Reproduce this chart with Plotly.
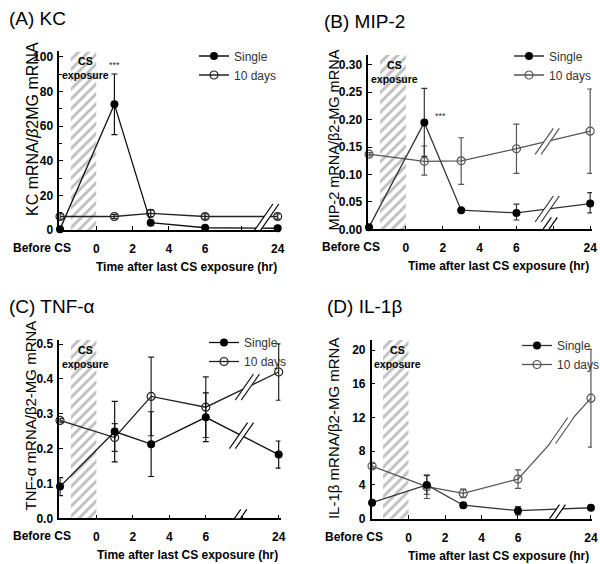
import plotly.graph_objects as go

# ---------------- data ----------------
TIME_LABELS = ["Before CS", "1", "3", "6", "24"]
X_POS = [-2, 1, 3, 6, 10]          # plotting position of each time point (24 h drawn after a break)
TICK_VALS = [-2, 0, 2, 4, 6, 8, 10]
TICK_TEXT = ["", "0", "2", "4", "6", "", "24"]
BEFORE_LABEL = "Before CS"
BEFORE_LABEL_X = -3.0
EXPOSURE = [-1.4, 0]               # hatched "CS exposure" window

KC_SINGLE = [0.5, 72.5, 4.2, 1.3, 1.0]
KC_SINGLE_ERR = [0.5, 17.5, 1.0, 0.5, 0.5]
KC_TEN = [7.8, 7.8, 9.6, 7.8, 7.8]
KC_TEN_ERR = [1.5, 1.2, 2.0, 1.5, 1.5]

MIP_SINGLE = [0.004, 0.195, 0.035, 0.030, 0.047]
MIP_SINGLE_ERR_UP = [0.002, 0.062, 0.003, 0.016, 0.020]
MIP_SINGLE_ERR_DN = [0.002, 0.062, 0.003, 0.013, 0.017]
MIP_TEN = [0.137, 0.124, 0.125, 0.147, 0.179]
MIP_TEN_ERR_UP = [0.003, 0.028, 0.042, 0.045, 0.077]
MIP_TEN_ERR_DN = [0.003, 0.025, 0.043, 0.045, 0.077]

TNF_SINGLE = [0.091, 0.249, 0.213, 0.290, 0.183]
TNF_SINGLE_ERR = [0.026, 0.087, 0.093, 0.070, 0.039]
TNF_TEN = [0.281, 0.232, 0.350, 0.319, 0.420]
TNF_TEN_ERR = [0.005, 0.040, 0.113, 0.087, 0.081]

IL_SINGLE = [1.9, 4.0, 1.6, 0.95, 1.3]
IL_SINGLE_ERR = [0.3, 1.1, 0.3, 0.5, 0.3]
IL_TEN = [6.25, 3.8, 3.0, 4.7, 14.3]
IL_TEN_ERR = [0.3, 1.4, 0.5, 1.1, 5.8]

PANELS = [
    dict(title="(A) KC", ytitle="KC mRNA/<i>β</i>2MG mRNA", ytsize=16, ytoff=27, ytshift=12,
         toff=52, legx=194, legy=41.5,
         s=KC_SINGLE, s_up=KC_SINGLE_ERR, s_dn=KC_SINGLE_ERR,
         t=KC_TEN, t_up=KC_TEN_ERR, t_dn=KC_TEN_ERR,
         yrange=[0, 103], dtick=20, minor=10, xrange=[-2.04, 10.13],
         xdom=[0.0988, 0.4667], ydom=[0.5922, 0.9087],
         scol="#111111", tcol="#222222", star=(1.03, 95),
         breaks=dict(axis=(8.9, -8, 26))),
    dict(title="(B) MIP-2", ytitle="MIP-2 mRNA/β2-MG mRNA", ytsize=14.5, ytoff=34, ytshift=2,
         toff=46, legx=509, legy=41.5,
         s=MIP_SINGLE, s_up=MIP_SINGLE_ERR_UP, s_dn=MIP_SINGLE_ERR_DN,
         t=MIP_TEN, t_up=MIP_TEN_ERR_UP, t_dn=MIP_TEN_ERR_DN,
         yrange=[0, 0.318], dtick=0.05, minor=None, xrange=[-2.04, 10.1],
         xdom=[0.6138, 0.9867], ydom=[0.5934, 0.9025],
         scol="#333333", tcol="#555555", star=(1.86, 0.207),
         breaks=dict(axis=(7.6, -17, 12), single=7.67, ten=7.67)),
    dict(title="(C) TNF-α", ytitle="TNF-α mRNA/β2-MG mRNA", ytsize=15, ytoff=29, ytshift=14,
         toff=52, legx=204, legy=328,
         s=TNF_SINGLE, s_up=TNF_SINGLE_ERR, s_dn=TNF_SINGLE_ERR,
         t=TNF_TEN, t_up=TNF_TEN_ERR, t_dn=TNF_TEN_ERR,
         yrange=[0, 0.512], dtick=0.1, minor=None, xrange=[-2.04, 10.1],
         xdom=[0.0988, 0.4675], ydom=[0.081, 0.3972],
         scol="#111111", tcol="#222222", star=None,
         breaks=dict(axis=(7.74, -9, 9), single=7.96, ten=8.28)),
    dict(title="(D) IL-1β", ytitle="IL-1β mRNA/β2-MG mRNA", ytsize=15, ytoff=38, ytshift=1,
         toff=47, legx=517, legy=331,
         s=IL_SINGLE, s_up=IL_SINGLE_ERR, s_dn=IL_SINGLE_ERR,
         t=IL_TEN, t_up=IL_TEN_ERR, t_dn=IL_TEN_ERR,
         yrange=[0, 21.2], dtick=4, minor=None, xrange=[-2.02, 10.06],
         xdom=[0.6195, 0.9867], ydom=[0.0803, 0.3972],
         scol="#333333", tcol="#555555", star=None,
         breaks=dict(axis=(7.9, -12, 14), ten=8.4)),
]

FONT = "Arial, Liberation Sans, sans-serif"
fig = go.Figure()
annotations = []
shapes = []
W, H = 600, 564

for i, p in enumerate(PANELS):
    n = "" if i == 0 else str(i + 1)
    xa, ya = "x" + n, "y" + n
    leg = "legend" + n
    top = p["yrange"][1]

    # hatched exposure window
    fig.add_trace(go.Scatter(
        x=[EXPOSURE[0], EXPOSURE[1], EXPOSURE[1], EXPOSURE[0], EXPOSURE[0]],
        y=[0, 0, top, top, 0], xaxis=xa, yaxis=ya, mode="lines",
        line=dict(width=0), fill="toself", fillcolor="white",
        fillpattern=dict(shape="/", fgcolor="#808080", bgcolor="white", size=7, solidity=0.42),
        hoverinfo="skip", showlegend=False))

    fig.add_trace(go.Scatter(
        x=X_POS, y=p["t"], xaxis=xa, yaxis=ya, name="10 days", legend=leg,
        mode="lines+markers", line=dict(color=p["tcol"], width=1.3),
        marker=dict(symbol="circle-open", size=8, color=p["tcol"], line=dict(width=1.2)),
        error_y=dict(type="data", symmetric=False, array=p["t_up"], arrayminus=p["t_dn"],
                     color=p["tcol"], thickness=1.2, width=3),
        cliponaxis=False))
    fig.add_trace(go.Scatter(
        x=X_POS, y=p["s"], xaxis=xa, yaxis=ya, name="Single", legend=leg,
        mode="lines+markers", line=dict(color=p["scol"], width=1.3),
        marker=dict(symbol="circle", size=8, color="black"),
        error_y=dict(type="data", symmetric=False, array=p["s_up"], arrayminus=p["s_dn"],
                     color=p["scol"], thickness=1.2, width=3),
        cliponaxis=False))

    axis_common = dict(showgrid=False, zeroline=False, showline=True, linecolor="black",
                       linewidth=1.5, ticks="inside", ticklen=4, tickcolor="black",
                       automargin=False,
                       tickfont=dict(family=FONT, size=12, color="black", weight="bold"))
    fig.update_layout(**{
        "xaxis" + n: dict(domain=p["xdom"], range=p["xrange"], anchor=ya, tickangle=0,
                          tickvals=TICK_VALS, ticktext=TICK_TEXT, ticklabelstandoff=7,
                          **axis_common),
        "yaxis" + n: dict(domain=p["ydom"], range=p["yrange"], anchor=xa, dtick=p["dtick"],
                          tick0=0, ticklabelstandoff=2,
                          tickformat=".2f" if p["dtick"] == 0.05 else (".1f" if p["dtick"] == 0.1 else "d"),
                          **axis_common),
        leg: dict(x=p["legx"] / W, y=1 - p["legy"] / H, xanchor="left", yanchor="top",
                  bgcolor="rgba(0,0,0,0)", font=dict(family=FONT, size=12, color="#333"),
                  traceorder="reversed", itemwidth=30, tracegroupgap=0),
    })
    if p["minor"]:
        fig.update_layout(**{"yaxis" + n: dict(minor=dict(dtick=p["minor"], ticks="inside",
                                                          ticklen=3, tickcolor="black"))})

    x0p, x1p = p["xdom"][0] * W, p["xdom"][1] * W
    y_top_px = (1 - p["ydom"][1]) * H
    y_bot_px = (1 - p["ydom"][0]) * H
    px_per_unit = (x1p - x0p) / (p["xrange"][1] - p["xrange"][0])

    # panel title
    annotations.append(dict(text=p["title"], xref="paper", yref="paper",
                            x=(x0p - p["toff"]) / W, y=1 - (y_top_px - 33) / H,
                            xanchor="left", yanchor="middle", showarrow=False,
                            font=dict(family=FONT, size=19, color="black")))
    # y title
    annotations.append(dict(text=p["ytitle"], xref="paper", yref="paper",
                            x=(x0p - p["ytoff"]) / W,
                            y=1 - ((y_top_px + y_bot_px) / 2 - p["ytshift"]) / H,
                            xanchor="center", yanchor="middle", textangle=-90, showarrow=False,
                            font=dict(family=FONT, size=p["ytsize"], color="black")))
    # x title
    annotations.append(dict(text="Time after last CS exposure (hr)", xref="paper", yref="paper",
                            x=(x1p - 1) / W, y=1 - (y_bot_px + 37) / H,
                            xanchor="right", yanchor="middle", showarrow=False,
                            font=dict(family=FONT, size=12, color="black", weight="bold")))
    # "Before CS" category label (sits left of its tick)
    annotations.append(dict(text=BEFORE_LABEL, xref=xa, yref=ya + " domain",
                            x=X_POS[0], y=0, yanchor="top", yshift=-9,
                            xshift=(BEFORE_LABEL_X - X_POS[0]) * px_per_unit, showarrow=False,
                            font=dict(family=FONT, size=12, color="black", weight="bold")))
    # CS exposure label
    annotations.append(dict(text="CS<br>exposure", xref=xa, yref=ya + " domain",
                            x=-0.6, y=1, yanchor="top", yshift=-2, showarrow=False,
                            font=dict(family=FONT, size=10.5, color="black", weight="bold")))
    if p["star"]:
        annotations.append(dict(text="***", xref=xa, yref=ya, x=p["star"][0], y=p["star"][1],
                                showarrow=False, font=dict(family=FONT, size=9, color="#333")))

    # axis break marks
    def add_break(bx, by, lo, hi, color):
        dx_lo, dx_hi = lo * 0.7, hi * 0.7
        shapes.append(dict(type="path", xref=xa, yref=ya, xsizemode="pixel", ysizemode="pixel",
                           xanchor=bx, yanchor=by,
                           path=f"M{dx_lo - 3},{lo} L{dx_hi - 3},{hi} L{dx_hi + 3},{hi} L{dx_lo + 3},{lo} Z",
                           fillcolor="white", line=dict(width=0), layer="above"))
        shapes.append(dict(type="path", xref=xa, yref=ya, xsizemode="pixel", ysizemode="pixel",
                           xanchor=bx, yanchor=by,
                           path=f"M{dx_lo - 3},{lo} L{dx_hi - 3},{hi} M{dx_lo + 3},{lo} L{dx_hi + 3},{hi}",
                           line=dict(color=color, width=1.2), layer="above"))

    b = p["breaks"]
    ax_b = b["axis"]
    add_break(ax_b[0], 0, ax_b[1], ax_b[2], "black")
    for key, series, col in (("single", p["s"], p["scol"]), ("ten", p["t"], p["tcol"])):
        if key in b:
            bx = b[key]
            by = series[3] + (bx - X_POS[3]) / (X_POS[4] - X_POS[3]) * (series[4] - series[3])
            add_break(bx, by, -13, 13, col)

fig.update_layout(width=W, height=H, margin=dict(l=0, r=0, t=0, b=0, autoexpand=False),
                  paper_bgcolor="white", plot_bgcolor="white",
                  annotations=annotations, shapes=shapes,
                  font=dict(family=FONT))
fig.write_html("out.html", config={"displayModeBar": False},
               post_script="document.body.style.margin='0';")
